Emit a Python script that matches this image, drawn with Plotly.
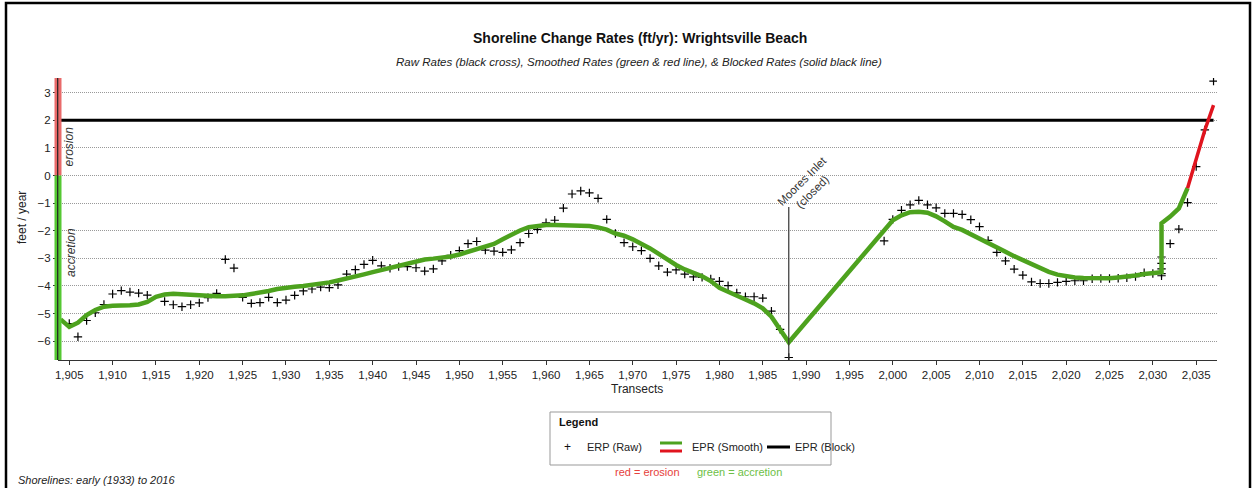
import plotly.graph_objects as go

# ---------------- data ----------------
raw_x = [1905, 1906, 1907, 1908, 1909, 1910, 1911, 1912, 1913, 1914,
         1916, 1917, 1918, 1919, 1920, 1921, 1922, 1923, 1924, 1925,
         1926, 1927, 1928, 1929, 1930, 1931, 1932, 1933, 1934, 1935,
         1936, 1937, 1938, 1939, 1940, 1941, 1942, 1943, 1944, 1945,
         1946, 1947, 1948, 1949, 1950, 1951, 1952, 1953, 1954, 1955,
         1956, 1957, 1958, 1959, 1960, 1961, 1962, 1963, 1964, 1965,
         1966, 1967, 1968, 1969, 1970, 1971, 1972, 1973, 1974, 1975,
         1976, 1977, 1978, 1979, 1980, 1981, 1982, 1983, 1984, 1985,
         1986, 1987, 1988,
         1999, 2000, 2001, 2002, 2003, 2004, 2005, 2006, 2007, 2008,
         2009, 2010, 2011, 2012, 2013, 2014, 2015, 2016, 2017, 2018,
         2019, 2020, 2021, 2022, 2023, 2024, 2025, 2026, 2027, 2028,
         2029, 2030, 2031, 2031, 2031, 2031, 2031, 2032, 2033, 2034,
         2035, 2036, 2037]
raw_y = [-5.36, -5.84, -5.25, -4.97, -4.67, -4.29, -4.17, -4.22, -4.26, -4.33,
         -4.56, -4.68, -4.75, -4.68, -4.61, -4.42, -4.27, -3.04, -3.35, -4.41,
         -4.63, -4.60, -4.41, -4.60, -4.51, -4.34, -4.18, -4.11, -4.04, -4.06,
         -3.96, -3.57, -3.41, -3.22, -3.07, -3.27, -3.36, -3.30, -3.30, -3.34,
         -3.46, -3.38, -3.09, -2.89, -2.72, -2.47, -2.39, -2.70, -2.74, -2.78,
         -2.69, -2.43, -2.10, -1.95, -1.71, -1.62, -1.18, -0.67, -0.56, -0.63,
         -0.83, -1.59, -2.10, -2.43, -2.58, -2.72, -3.00, -3.27, -3.50, -3.42,
         -3.57, -3.67, -3.69, -3.75, -3.83, -3.99, -4.25, -4.39, -4.39, -4.44,
         -4.91, -5.57, -6.59,
         -2.37, -1.59, -1.26, -1.06, -0.90, -1.06, -1.17, -1.37, -1.37, -1.41,
         -1.60, -1.85, -2.35, -2.78, -3.09, -3.39, -3.61, -3.85, -3.91, -3.91,
         -3.87, -3.83, -3.81, -3.81, -3.74, -3.73, -3.73, -3.72, -3.70, -3.66,
         -3.52, -3.55, -3.63, -3.55, -3.38, -3.18, -2.95, -2.47, -1.94, -0.98,
         0.32, 1.65, 3.42]

smooth_x = [1904, 1905, 1906, 1907, 1908, 1909, 1910, 1911, 1912, 1913,
            1914, 1915, 1916, 1917, 1918, 1919, 1920, 1921, 1922, 1923,
            1924, 1925, 1926, 1927, 1928, 1929, 1930, 1931, 1932, 1933,
            1934, 1935, 1936, 1937, 1938, 1939, 1940, 1941, 1942, 1943,
            1944, 1945, 1946, 1947, 1948, 1949, 1950, 1951, 1952, 1953,
            1954, 1955, 1956, 1957, 1958, 1959, 1960, 1961, 1962, 1963,
            1964, 1965, 1966, 1967, 1968, 1969, 1970, 1971, 1972, 1973,
            1974, 1975, 1976, 1977, 1978, 1979, 1980, 1981, 1982, 1983,
            1984, 1985, 1986, 1987, 1988,
            2000, 2001, 2002, 2003, 2004, 2005, 2006, 2007, 2008, 2009,
            2010, 2011, 2012, 2013, 2014, 2015, 2016, 2017, 2018, 2019,
            2020, 2021, 2022, 2023, 2024, 2025, 2026, 2027, 2028, 2029,
            2030, 2031, 2031, 2032, 2033, 2034, 2035, 2036, 2037]
smooth_y = [-5.21, -5.48, -5.33, -5.05, -4.87, -4.75, -4.72, -4.72, -4.70, -4.67,
            -4.58, -4.39, -4.31, -4.28, -4.30, -4.33, -4.37, -4.38, -4.37, -4.37,
            -4.37, -4.34, -4.29, -4.25, -4.18, -4.11, -4.05, -4.03, -4.00, -3.97,
            -3.91, -3.87, -3.80, -3.74, -3.67, -3.58, -3.50, -3.42, -3.35, -3.24,
            -3.16, -3.09, -3.04, -3.01, -2.98, -2.93, -2.86, -2.77, -2.67, -2.60,
            -2.48, -2.31, -2.14, -1.99, -1.87, -1.81, -1.79, -1.79, -1.79, -1.79,
            -1.80, -1.83, -1.88, -1.96, -2.10, -2.18, -2.31, -2.46, -2.64, -2.84,
            -3.06, -3.24, -3.40, -3.52, -3.65, -3.82, -4.07, -4.21, -4.37, -4.49,
            -4.63, -4.81, -5.11, -5.60, -6.04,
            -1.62, -1.44, -1.33, -1.31, -1.35, -1.48, -1.66, -1.86, -1.97, -2.12,
            -2.28, -2.42, -2.60, -2.76, -2.92, -3.06, -3.22, -3.36, -3.49, -3.59,
            -3.65, -3.69, -3.71, -3.72, -3.72, -3.72, -3.69, -3.67, -3.62, -3.57,
            -3.53, -3.50, -1.73, -1.49, -1.19, -0.46, 0.56, 1.65, 2.55]
erosion_start = 2034          # smoothed line turns red from this transect on

block_x = [1904, 2037]
block_y = [2, 2]

inlet_x = 1988
inlet_top = -1.14
inlet_label = "Moores Inlet<br>(closed)"

x_ticks = list(range(1905, 2040, 5))
y_ticks = list(range(-6, 4))

title = "<b>Shoreline Change Rates (ft/yr): Wrightsville Beach</b>"
subtitle = "<i>Raw Rates (black cross), Smoothed Rates (green &amp; red line), &amp; Blocked Rates (solid black line)</i>"
footnote = "<i>Shorelines: early (1933) to 2016</i>"

# ---------------- styling ----------------
FONT = "Liberation Sans, Arial, sans-serif"
GREEN = "#4da21e"
RED = "#e0141e"
XR = [1903.7, 2037.4]
YR = [-6.68, 3.53]

# plot area in pixels
L, R, T, B = 58, 1217, 78, 360
W, H = R - L, B - T


def px(xp):
    return (xp - L) / W


def py(yp):
    return (B - yp) / H


i_red = smooth_x.index(erosion_start)
green_x, green_y = smooth_x[:i_red + 1], smooth_y[:i_red + 1]
red_x, red_y = smooth_x[i_red:], smooth_y[i_red:]

fig = go.Figure()
fig.add_trace(go.Scatter(x=block_x, y=block_y, mode="lines",
                         line=dict(color="black", width=3), name="EPR (Block)"))
fig.add_trace(go.Scatter(x=raw_x, y=raw_y, mode="markers",
                         marker=dict(symbol="cross-thin", size=6, color="black",
                                     line=dict(color="black", width=1.2)),
                         name="ERP (Raw)"))
fig.add_trace(go.Scatter(x=green_x, y=green_y, mode="lines",
                         line=dict(color=GREEN, width=4.5), name="EPR (Smooth)"))
fig.add_trace(go.Scatter(x=red_x, y=red_y, mode="lines",
                         line=dict(color=RED, width=3.5), showlegend=False))

shapes = []
# outer frame
shapes.append(dict(type="rect", xref="paper", yref="paper",
                   x0=px(6), x1=px(1250), y0=py(492), y1=py(3),
                   line=dict(color="black", width=2.5), layer="above"))
# colored erosion / accretion bar along the y axis
shapes.append(dict(type="rect", xref="paper", yref="y",
                   x0=px(54.5), x1=px(61.5), y0=0, y1=YR[1],
                   fillcolor="#e96a6a", line=dict(width=0), layer="above"))
shapes.append(dict(type="rect", xref="paper", yref="y",
                   x0=px(54.5), x1=px(61.5), y0=YR[0], y1=0,
                   fillcolor="#55c832", line=dict(width=0), layer="above"))
shapes.append(dict(type="line", xref="paper", yref="paper",
                   x0=px(57.7), x1=px(57.7), y0=0, y1=1,
                   line=dict(color="#222", width=1.2), layer="above"))
# Moores Inlet line
shapes.append(dict(type="line", xref="x", yref="y",
                   x0=inlet_x, x1=inlet_x, y0=inlet_top, y1=YR[0],
                   line=dict(color="#333", width=1.2), layer="above"))
# legend box
shapes.append(dict(type="rect", xref="paper", yref="paper",
                   x0=px(550), x1=px(831), y0=py(465), y1=py(412),
                   line=dict(color="#999", width=1), fillcolor="white"))
shapes.append(dict(type="line", xref="paper", yref="paper",
                   x0=px(660), x1=px(682), y0=py(443), y1=py(443),
                   line=dict(color=GREEN, width=3)))
shapes.append(dict(type="line", xref="paper", yref="paper",
                   x0=px(660), x1=px(682), y0=py(451), y1=py(451),
                   line=dict(color=RED, width=3)))
shapes.append(dict(type="line", xref="paper", yref="paper",
                   x0=px(767), x1=px(790), y0=py(447), y1=py(447),
                   line=dict(color="black", width=3)))

ann = []


def text(x, y, s, size=11, color="#222", xanchor="center", angle=0, yanchor="middle"):
    ann.append(dict(x=px(x), y=py(y), xref="paper", yref="paper", text=s,
                    showarrow=False, xanchor=xanchor, yanchor=yanchor,
                    textangle=angle, font=dict(family=FONT, size=size, color=color)))


text(640, 38, title, size=14, color="#111")
text(639, 62, subtitle, size=11.5, color="#222")
text(22, 218, "feet / year", size=12, angle=-90)
text(68.5, 147, "<i>erosion</i>", size=12, angle=-90, color="#333")
text(71, 253, "<i>accretion</i>", size=12, angle=-90, color="#333")
text(637, 389, "Transects", size=12)
text(807, 186, inlet_label, size=11.5, angle=-45, color="#333")
text(557, 422, "<b>Legend</b>", size=11, xanchor="left", color="#111")
text(567, 447, "+", size=12, color="#111")
text(585, 447, "ERP (Raw)", size=11, xanchor="left")
text(690, 447, "EPR (Smooth)", size=11, xanchor="left")
text(793, 447, "EPR (Block)", size=11, xanchor="left")
text(647, 472, "red = erosion", size=11, color="#e6413c")
text(739, 472, "green = accretion", size=11, color="#6dbf47")
text(16, 480, footnote, size=11, xanchor="left", color="#222")

fig.update_layout(
    width=1255, height=488,
    margin=dict(l=L, r=1255 - R, t=T, b=488 - B, pad=0),
    paper_bgcolor="white", plot_bgcolor="white",
    showlegend=False,
    font=dict(family=FONT, size=12, color="#222"),
    shapes=shapes, annotations=ann,
    xaxis=dict(range=XR, tickmode="array", tickvals=x_ticks,
               ticktext=[f"{v:,}" for v in x_ticks],
               showgrid=False, zeroline=False, showline=True,
               linecolor="#333", linewidth=1.2, ticks="outside", ticklen=4,
               tickcolor="#333", tickfont=dict(size=11.5, color="#222")),
    yaxis=dict(range=YR, tickmode="array", tickvals=y_ticks,
               showgrid=True, gridcolor="#999999", griddash="1px,1px", gridwidth=1,
               zeroline=False, showline=False, ticks="outside", ticklen=4,
               tickcolor="#333", tickfont=dict(size=11.5, color="#222")),
)

fig.write_html(
    "out.html",
    config={"displayModeBar": False},
    post_script="document.body.style.margin='0';document.body.style.overflow='hidden';",
)
